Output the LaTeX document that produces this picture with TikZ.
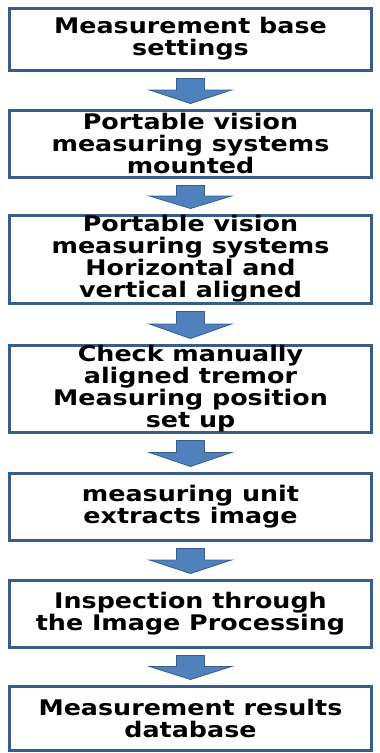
\documentclass[tikz,border=0pt]{standalone}
\usepackage{fontspec}
\newfontfamily\boxfont[FakeStretch=1.18]{DejaVu Sans}
\usetikzlibrary{calc}
\definecolor{frameblue}{RGB}{56,93,138}
\definecolor{arrowblue}{RGB}{79,129,189}
\tikzset{
  stepbox/.style={draw=frameblue, line width=3pt, fill=white, inner sep=0pt,
    minimum width=362pt, align=center, text=black,
    font=\boxfont\bfseries\fontsize{21.5}{22}\selectfont},
  flowarrow/.style={fill=arrowblue, draw=frameblue, line width=0.8pt, line join=miter}
}
% block arrow from just below node #1 to just above node #2
\newcommand{\flowdown}[2]{%
  \path[flowarrow] let \p1=($(#1.south)+(0,-7pt)$), \p2=($(#2.north)+(0,5pt)$),
    \n1={(\y1+\y2)/2+1pt} in
    (\x1-14pt,\y1) -- (\x1+14pt,\y1) -- (\x1+14pt,\n1) -- (\x1+41pt,\n1)
    -- (\x1,\y2) -- (\x1-41pt,\n1) -- (\x1-14pt,\n1) -- cycle;}
\begin{document}
\begin{tikzpicture}[x=1pt,y=-1pt]
\useasboundingbox (0,0) rectangle (380,753);
\node[stepbox, minimum height=62pt] (b1) at (190.5,39)
  {Measurement base\\settings};
\node[stepbox, minimum height=67pt] (b2) at (190.5,143.5)
  {Portable vision\\measuring systems\\mounted};
\node[stepbox, minimum height=88pt] (b3) at (190.5,259)
  {Portable vision\\measuring systems\\Horizontal and\\vertical aligned};
\node[stepbox, minimum height=87pt] (b4) at (190.5,388.5)
  {Check manually\\aligned tremor\\Measuring position\\set up};
\node[stepbox, minimum height=67pt] (b5) at (190.5,506.5)
  {measuring unit\\extracts image};
\node[stepbox, minimum height=67pt] (b6) at (190.5,613.5)
  {Inspection through\\the Image Processing};
\node[stepbox, minimum height=64pt] (b7) at (190.5,718)
  {Measurement results\\database};
\flowdown{b1}{b2}
\flowdown{b2}{b3}
\flowdown{b3}{b4}
\flowdown{b4}{b5}
\flowdown{b5}{b6}
\flowdown{b6}{b7}
\end{tikzpicture}
\end{document}
